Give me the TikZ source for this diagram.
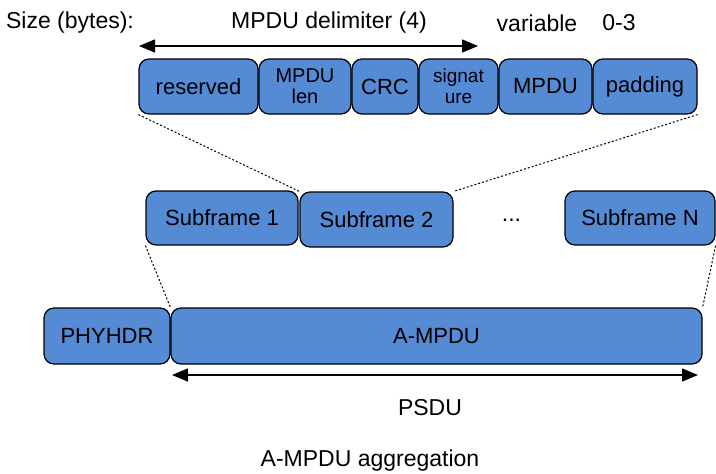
\documentclass[tikz,border=0pt]{standalone}
\usepackage{fontspec}
\setmainfont{Liberation Sans}
\usetikzlibrary{arrows.meta}
\definecolor{boxblue}{RGB}{85,138,213}
\tikzset{
  box/.style={draw=black, line width=1.2pt, fill=boxblue, rounded corners=10pt, inner sep=0pt, align=center, font=\fontsize{22}{24}\selectfont},
  lenfont/.style={font=\fontsize{20}{21}\selectfont},
  sigfont/.style={font=\fontsize{19}{21}\selectfont},
  lbl/.style={inner sep=0pt, font=\fontsize{23}{25}\selectfont},
  dots/.style={line width=1pt, dash pattern=on 2pt off 2pt},
  dim/.style={line width=1.5pt, {Triangle[length=16pt,width=13pt]}-{Triangle[length=16pt,width=13pt]}}
}
\begin{document}
\begin{tikzpicture}[x=1pt,y=-1pt]
\useasboundingbox (0,0) rectangle (716,474);
% top labels
\node[lbl] (size) at (70,23) {Size (bytes):};
\node[lbl] (delim) at (329,23) {MPDU delimiter (4)};
\node[lbl] (var) at (537,23) {variable};
\node[lbl] (zt) at (619,23) {0-3};
\coordinate (dl) at (139,46);
\coordinate (dr) at (478,46);
\draw[dim] (dl) -- (dr);
% top row
\node[box, minimum width=119pt, minimum height=55pt] (res) at (198.5,86.5) {reserved};
\node[box, lenfont, minimum width=92pt, minimum height=55pt] (len) at (305,86.5) {MPDU\\len};
\node[box, minimum width=66pt, minimum height=55pt] (crc) at (385,86.5) {CRC};
\node[box, sigfont, minimum width=79pt, minimum height=55pt] (sig) at (458.5,86.5) {signat\\ure};
\node[box, minimum width=93pt, minimum height=55pt] (mpdu) at (545.5,86.5) {MPDU};
\node[box, minimum width=104pt, minimum height=55pt] (pad) at (645,86.5) {padding};
% middle row
\node[box, minimum width=152pt, minimum height=54pt] (sf1) at (222,218) {Subframe 1};
\node[box, minimum width=153pt, minimum height=55pt] (sf2) at (376.5,219.5) {Subframe 2};
\node[lbl] (ell) at (511.5,220) {...};
\node[box, minimum width=150pt, minimum height=54pt] (sfn) at (640,218) {Subframe N};
% bottom row
\node[box, minimum width=126pt, minimum height=56pt] (phy) at (107,336) {PHYHDR};
\node[box, minimum width=531pt, minimum height=56pt] (ampdu) at (436.5,336) {A-MPDU};
\coordinate (pl) at (172,375);
\coordinate (pr) at (698,375);
\draw[dim] (pl) -- (pr);
\node[lbl] (psdu) at (430,408) {PSDU};
\node[lbl] (cap) at (370,461) {A-MPDU aggregation};
% dotted connectors
\draw[dots] (res.south west) -- (sf2.north west);
\draw[dots] (pad.south east) -- (sf2.north east);
\draw[dots] (sf1.south west) -- (ampdu.north west);
\draw[dots] (sfn.south east) -- (ampdu.north east);
\end{tikzpicture}
\end{document}
